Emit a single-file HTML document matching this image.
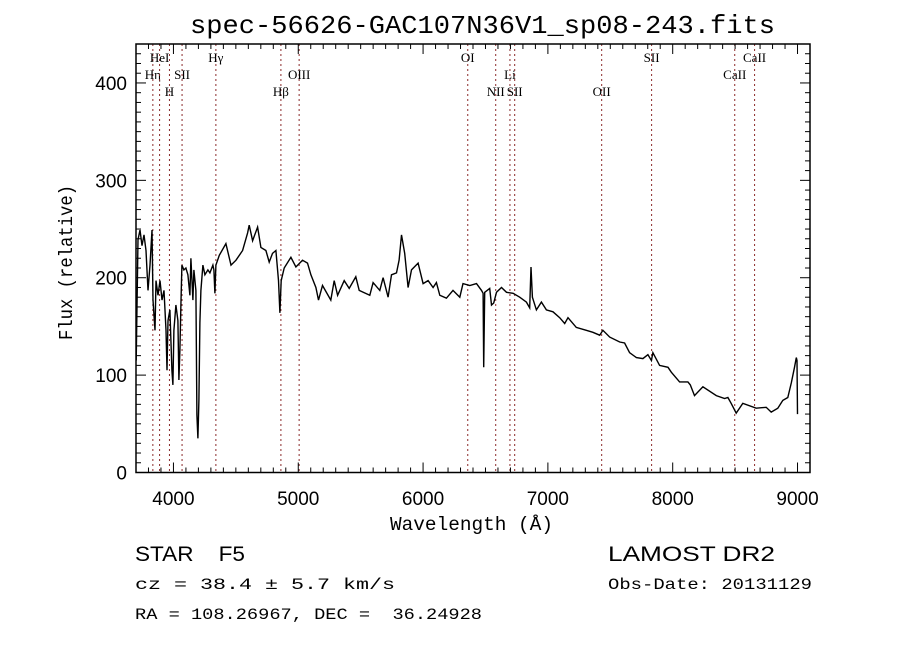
<!DOCTYPE html>
<html><head><meta charset="utf-8"><style>
html,body{margin:0;padding:0;background:#fff;}
svg{display:block;}
text{fill:#000;white-space:pre;}
</style></head><body>
<svg id="chart" width="900" height="649" viewBox="0 0 900 649" xmlns="http://www.w3.org/2000/svg" xml:space="preserve">
<rect width="900" height="649" fill="#fff"/>
<text x="190" y="33" font-family="Liberation Mono, monospace" font-size="26" textLength="585" lengthAdjust="spacingAndGlyphs">spec-56626-GAC107N36V1_sp08-243.fits</text>
<g id="lines"></g>
<g id="spec"></g>
<g id="axes"></g>
<text x="390" y="530" font-family="Liberation Mono, monospace" font-size="19" textLength="163" lengthAdjust="spacingAndGlyphs">Wavelength (Å)</text>
<text transform="translate(72,340) rotate(-90)" font-family="Liberation Mono, monospace" font-size="19" textLength="155" lengthAdjust="spacingAndGlyphs">Flux (relative)</text>
<text x="135" y="561" font-family="Liberation Sans, sans-serif" font-size="21" textLength="110" lengthAdjust="spacingAndGlyphs">STAR    F5</text>
<text x="608" y="561" font-family="Liberation Sans, sans-serif" font-size="21" textLength="167" lengthAdjust="spacingAndGlyphs">LAMOST DR2</text>
<text x="135" y="589" font-family="Liberation Mono, monospace" font-size="16" textLength="260" lengthAdjust="spacingAndGlyphs">cz = 38.4 ± 5.7 km/s</text>
<text x="608" y="589" font-family="Liberation Mono, monospace" font-size="16" textLength="204" lengthAdjust="spacingAndGlyphs">Obs-Date: 20131129</text>
<text x="135" y="619" font-family="Liberation Mono, monospace" font-size="16" textLength="347" lengthAdjust="spacingAndGlyphs">RA = 108.26967, DEC =  36.24928</text>
</svg>
<script>
const wavelengths = [3702,3716,3732,3748,3764,3780,3796,3812,3828,3836,3852,3860,3876,3892,3908,3924,3940,3948,3956,3972,3980,3988,3996,4004,4020,4036,4044,4052,4060,4068,4084,4100,4116,4132,4140,4156,4164,4180,4188,4196,4204,4212,4220,4236,4252,4276,4292,4316,4324,4332,4340,4367,4420,4461,4501,4554,4594,4607,4634,4674,4701,4741,4767,4794,4821,4842,4853,4863,4887,4941,4981,5034,5074,5101,5141,5162,5194,5261,5288,5315,5368,5408,5461,5488,5520,5573,5600,5653,5680,5720,5747,5787,5808,5827,5853,5880,5907,5960,6000,6040,6080,6107,6134,6187,6240,6294,6320,6374,6428,6468,6481,6486,6494,6534,6548,6566,6588,6628,6668,6721,6774,6828,6854,6865,6876,6908,6948,6988,7041,7095,7135,7161,7228,7308,7361,7415,7441,7495,7575,7615,7655,7709,7761,7801,7829,7841,7895,7962,7989,8055,8122,8141,8175,8242,8349,8416,8442,8469,8509,8562,8669,8749,8789,8842,8882,8922,8950,8976,8990,8996,9000];
const fluxValues = [115,239,249,233,244,228,187,213,249,177,146,197,182,197,177,187,146,105,156,167,136,105,90,146,172,156,95,126,172,213,208,210,203,182,220,177,208,187,59,35,74,154,187,213,203,208,205,213,208,184,213,223,235,213,218,228,246,254,238,252,231,228,216,225,228,197,164,197,210,221,211,218,215,203,190,177,192,177,197,182,197,189,201,187,185,182,195,187,200,180,203,205,218,244,225,190,208,215,194,197,190,195,182,179,187,180,194,192,194,187,184,108,185,189,172,174,185,190,185,184,180,175,169,211,180,167,175,167,165,159,153,159,149,146,144,141,146,139,134,133,123,118,117,121,115,123,110,108,103,93,93,90,79,88,79,76,77,71,61,71,66,67,62,66,74,77,92,108,118,115,60,0];
const lineNames = ["Hη","HeI","H","SII","Hγ","Hβ","OIII","OI","NII","Li","SII","OII","SII","CaII","CaII"];
const lineWaves = [3835,3889,3968,4069,4340,4861,5007,6358,6582,6696,6734,7431,7831,8497,8656];
const lineRows = [2,1,3,2,1,3,2,1,3,2,3,3,1,2,1];
const xTickLabels = ["4000","5000","6000","7000","8000","9000"];
const yTickLabels = ["0","100","200","300","400"];

const NS="http://www.w3.org/2000/svg";
const L=136,R=810,T=44,B=472.5;
const XMIN=3700,XMAX=9100,YMIN=0,YMAX=440;
const xs=w=>L+(w-XMIN)/(XMAX-XMIN)*(R-L);
const ys=f=>B-(f-YMIN)/(YMAX-YMIN)*(B-T);
function mk(tag,attrs,parent){const e=document.createElementNS(NS,tag);for(const k in attrs)e.setAttribute(k,attrs[k]);parent.appendChild(e);return e;}

const lg=document.getElementById('lines');
const rowY={1:62,2:79,3:96};
lineWaves.forEach((w,i)=>{
  const x=xs(w);
  const ln=mk('line',{x1:x,x2:x,y1:T,y2:B,stroke:'#8b2a2a','stroke-width':1,'stroke-dasharray':'2,3'},lg);
  
  
  const t=mk('text',{x:x,y:rowY[lineRows[i]],'text-anchor':'middle','font-family':'Liberation Serif, serif','font-size':13},lg);
  t.textContent=lineNames[i];
  
  
});

const sg=document.getElementById('spec');
let d='';
wavelengths.forEach((w,i)=>{d+=(i?'L':'M')+xs(w).toFixed(1)+','+ys(fluxValues[i]).toFixed(1);});
const p=mk('path',{d:d,fill:'none',stroke:'#000','stroke-width':1.4,'stroke-linejoin':'miter'},sg);



const ag=document.getElementById('axes');
const fr=mk('rect',{x:L,y:T,width:R-L,height:B-T,fill:'none',stroke:'#000','stroke-width':1.5},ag);


for(let w=3700;w<=9100;w+=100){
  const x=xs(w);const major=(w%1000===0);const len=major?10:5;
  mk('line',{x1:x,x2:x,y1:B,y2:B-len,stroke:'#000','stroke-width':1},ag);
  mk('line',{x1:x,x2:x,y1:T,y2:T+len,stroke:'#000','stroke-width':1},ag);
}
xTickLabels.forEach(s=>{
  const t=mk('text',{x:xs(+s),y:505,'text-anchor':'middle','font-family':'Liberation Sans, sans-serif','font-size':19},ag);
  t.textContent=s;
  
  
});
for(let f=0;f<=440;f+=10){
  const y=ys(f);const major=(f%100===0);const len=major?10:5;
  mk('line',{x1:L,x2:L+len,y1:y,y2:y,stroke:'#000','stroke-width':1},ag);
  mk('line',{x1:R,x2:R-len,y1:y,y2:y,stroke:'#000','stroke-width':1},ag);
}
yTickLabels.forEach(s=>{
  const t=mk('text',{x:127,y:ys(+s)+7,'text-anchor':'end','font-family':'Liberation Sans, sans-serif','font-size':19},ag);
  t.textContent=s;
  
  
});
</script>
</body></html>
